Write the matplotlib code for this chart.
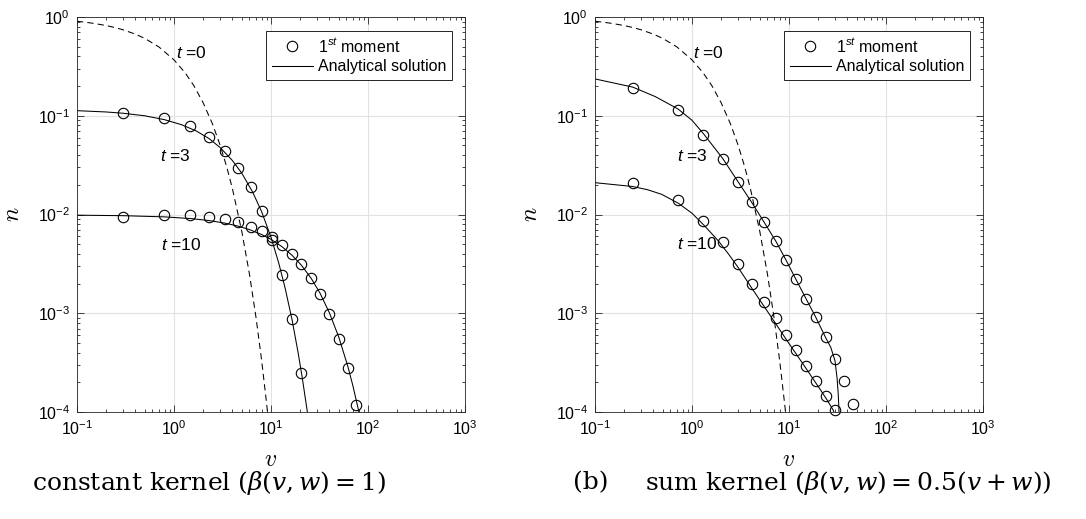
#!/usr/bin/env python3

import matplotlib
import matplotlib.pyplot as plt
from matplotlib.ticker import LogLocator, NullFormatter
from matplotlib.font_manager import FontProperties

matplotlib.rcParams['font.family'] = ['Liberation Sans', 'DejaVu Sans']
matplotlib.rcParams['mathtext.fontset'] = 'custom'
matplotlib.rcParams['mathtext.rm'] = 'Liberation Sans'
matplotlib.rcParams['mathtext.it'] = 'Liberation Sans:italic'
matplotlib.rcParams['mathtext.bf'] = 'Liberation Sans:bold'

# ---- data ----
# initial condition (t = 0), same in both panels
v_t0 = [0.1, 0.12, 0.15, 0.2, 0.25, 0.3, 0.4, 0.5, 0.7, 1, 1.3, 1.6, 2, 2.5, 3, 3.5, 4, 5, 6, 7, 8, 9, 10]
n_t0 = [0.905, 0.887, 0.861, 0.819, 0.779, 0.741, 0.670, 0.607, 0.497, 0.368, 0.273, 0.202, 0.135,
        0.0821, 0.0498, 0.0302, 0.0183, 0.00674, 0.00248, 0.000912, 0.000335, 0.000123, 0.0000454]

# (a) constant kernel
a_line_v3 = [0.1, 0.2, 0.3, 0.5, 0.8, 1.2, 1.7, 2.3, 3, 4, 5, 6.5, 8, 10, 12, 14, 16.5, 19, 21, 23.5, 24]
a_line_n3 = [0.1126, 0.1092, 0.106, 0.0999, 0.0912, 0.0811, 0.07, 0.0587, 0.0475, 0.0352, 0.0262,
             0.0167, 0.0107, 0.00589, 0.00324, 0.00179, 0.000855, 0.000403, 0.000222, 0.000106, 0.0000905]
a_line_v10 = [0.1, 0.3, 0.8, 1.5, 2.3, 3.3, 4.6, 6, 8, 10, 13, 16.5, 20.6, 26, 32, 40, 50, 62, 70, 81, 85]
a_line_n10 = [0.00984, 0.00973, 0.00946, 0.00909, 0.00868, 0.0082, 0.00762, 0.00703, 0.00627, 0.0056,
              0.00472, 0.00386, 0.00306, 0.00225, 0.0016, 0.00101, 0.000573, 0.000289, 0.000183,
              0.0000978, 0.0000785]
a_nodes = [0.298, 0.787, 1.47, 2.29, 3.34, 4.59, 6.15, 8.11, 10.3, 13.0, 16.5, 20.6,
           25.9, 32.3, 40.0, 49.9, 61.8, 75.9]
a_mom_n3 = [0.106, 0.0952, 0.0785, 0.0607, 0.0441, 0.0298, 0.0189, 0.0109, 0.0059, 0.00242,
            0.00087, 0.000249]
a_mom_n10 = [0.0095, 0.00989, 0.00989, 0.0095, 0.009, 0.00834, 0.00752, 0.0068, 0.00551, 0.00491,
             0.00398, 0.00313, 0.00226, 0.00156, 0.00098, 0.000555, 0.000277, 0.000117]

# (b) sum kernel
b_line_v3 = [0.1, 0.245, 0.42, 0.718, 1.0, 1.31, 2.07, 2.98, 4.12, 5.52, 7.29, 9.25, 11.8, 15.0,
             19.0, 24.0, 27.0, 29.8, 31.3, 32.2, 32.8]
b_line_n3 = [0.236, 0.195, 0.156, 0.117, 0.09, 0.066, 0.037, 0.0215, 0.0133, 0.0084, 0.0054, 0.0035,
             0.0022, 0.0014, 0.0009, 0.00056, 0.00045, 0.00033, 0.00022, 0.00015, 0.0001]
b_line_v10 = [0.1, 0.245, 0.35, 0.487, 0.723, 1.0, 1.36, 1.87, 2.37, 2.96, 4.29, 7.2, 9.4, 14.0,
              20.9, 25.0, 28.6, 30.0]
b_line_n10 = [0.021, 0.0192, 0.0178, 0.016, 0.013, 0.0103, 0.0076, 0.0054, 0.004, 0.00295, 0.0017,
              0.0008, 0.00054, 0.000305, 0.00017, 0.00013, 0.000104, 0.000092]
b_nodes = [0.245, 0.718, 1.31, 2.07, 2.98, 4.12, 5.52, 7.29, 9.25, 11.8, 15.0, 19.0, 24.0, 29.8,
           36.9, 46.0]
b_mom_n3 = [0.1905, 0.115, 0.0645, 0.0366, 0.0215, 0.0133, 0.00845, 0.00542, 0.00346, 0.00222,
            0.00141, 0.000906, 0.000569, 0.000348, 0.000206, 0.00012]
b_mom_n10 = [0.021, 0.014, 0.00859, 0.0053, 0.00313, 0.002, 0.00131, 0.000885, 0.0006, 0.000423,
             0.000293, 0.000206, 0.000145, 0.000104]

panels = [
    dict(rect=[77 / 1086, 107 / 519, 388 / 1086, 395 / 519],
         lines=[(a_line_v3, a_line_n3), (a_line_v10, a_line_n10)],
         moments=[(a_nodes[:len(a_mom_n3)], a_mom_n3), (a_nodes[:len(a_mom_n10)], a_mom_n10)],
         labels=[(1.52, 0.434, '0'), (1.04, 0.039, '3'), (1.2, 0.0049, '10')]),
    dict(rect=[595 / 1086, 107 / 519, 388 / 1086, 395 / 519],
         lines=[(b_line_v3, b_line_n3), (b_line_v10, b_line_n10)],
         moments=[(b_nodes[:len(b_mom_n3)], b_mom_n3), (b_nodes[:len(b_mom_n10)], b_mom_n10)],
         labels=[(1.46, 0.434, '0'), (1.02, 0.039, '3'), (1.12, 0.0050, '10')]),
]

fig = plt.figure(figsize=(10.86, 5.19), dpi=100)
spine_color = '#262626'

for p in panels:
    ax = fig.add_axes(p['rect'])
    ax.set_xscale('log')
    ax.set_yscale('log')
    ax.set_xlim(1e-1, 1e3)
    ax.set_ylim(1e-4, 1e0)

    ax.plot(v_t0, n_t0, color='black', lw=0.75, dashes=(6, 4))
    for v, n in p['lines']:
        line, = ax.plot(v, n, color='black', lw=0.75)
    for v, n in p['moments']:
        mk, = ax.plot(v, n, ls='none', marker='o', ms=7.5, mfc='none', mec='black', mew=0.8,
                      clip_on=False)

    for x, y, t in p['labels']:
        ax.text(x, y, '$t$ =' + t, fontsize=12.5, ha='center', va='center')

    ax.grid(True, which='major', color='#e2e2e2', lw=0.8)
    ax.set_axisbelow(True)
    ax.xaxis.set_major_locator(LogLocator(base=10, numticks=10))
    ax.yaxis.set_major_locator(LogLocator(base=10, numticks=10))
    ax.xaxis.set_minor_locator(LogLocator(base=10, subs=range(2, 10), numticks=20))
    ax.yaxis.set_minor_locator(LogLocator(base=10, subs=range(2, 10), numticks=20))
    ax.xaxis.set_minor_formatter(NullFormatter())
    ax.yaxis.set_minor_formatter(NullFormatter())
    ax.tick_params(which='both', direction='in', top=True, right=True, color=spine_color,
                   labelsize=11.5, width=0.6)
    ax.tick_params(which='major', length=5, pad=5)
    ax.tick_params(which='minor', length=2.5)
    for s in ax.spines.values():
        s.set_color(spine_color)
        s.set_linewidth(0.6)

    ax.set_xlabel('$v$', fontsize=17, math_fontfamily='cm', labelpad=8)
    ax.set_ylabel('$n$', fontsize=17, math_fontfamily='cm', labelpad=10)

    leg = ax.legend([mk, line], ['1$^{st}$ moment', 'Analytical solution'],
                    loc='upper right', bbox_to_anchor=(1 - 13 / 388, 1 - 14 / 395),
                    borderaxespad=0, fancybox=False, framealpha=1, edgecolor='black',
                    handlelength=2.6, handletextpad=0.3, labelspacing=0.3, borderpad=0.35,
                    prop=FontProperties(family='Liberation Sans', size=11.5, math_fontfamily='custom'))
    leg.get_frame().set_linewidth(0.6)

cap = dict(fontsize=18, family='DejaVu Serif', math_fontfamily='dejavuserif', va='center')
fig.text(32 / 1086, 1 - 483 / 519, r'constant kernel $(\beta(v,w) = 1)$', ha='left', **cap)
fig.text(573 / 1086, 1 - 483 / 519, '(b)', ha='left', **cap)
fig.text(645 / 1086, 1 - 483 / 519, r'sum kernel $(\beta(v,w) = 0.5(v + w))$', ha='left', **cap)

fig.savefig('out.png', dpi=100)
